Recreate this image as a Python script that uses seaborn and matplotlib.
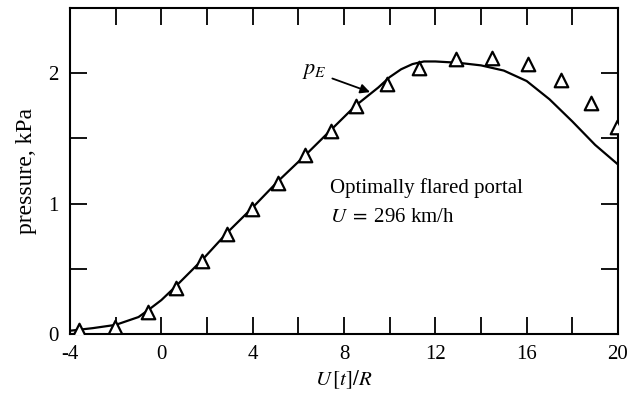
import matplotlib
matplotlib.use("Agg")
import matplotlib.pyplot as plt
import seaborn as sns
import numpy as np
import pandas as pd
from matplotlib.ticker import MultipleLocator, FixedLocator

# data
meas_x = [-3.6, -2.03, -0.58, 0.64, 1.78, 2.88, 3.97, 5.11, 6.29, 7.43, 8.53,
          9.89, 11.29, 12.91, 14.48, 16.06, 17.51, 18.82, 19.96]
meas_y = [0.03, 0.05, 0.17, 0.35, 0.56, 0.77, 0.96, 1.16, 1.37, 1.56, 1.75,
          1.92, 2.04, 2.11, 2.12, 2.07, 1.95, 1.77, 1.59]
curve_x = [-4.0, -3.0, -2.0, -1.0, -0.6, 0.0, 0.6, 1.8, 2.9, 4.0, 5.1, 6.3, 7.4,
           8.5, 9.5, 10.0, 10.5, 11.0, 11.5, 12.0, 13.0, 14.0, 15.0, 16.0,
           17.0, 18.0, 19.0, 20.0]
curve_y = [0.025, 0.045, 0.07, 0.13, 0.18, 0.26, 0.36, 0.57, 0.78, 0.97, 1.17,
           1.37, 1.56, 1.75, 1.89, 1.97, 2.03, 2.07, 2.09, 2.09, 2.08, 2.06,
           2.02, 1.94, 1.80, 1.63, 1.45, 1.30]
x_ticklabels = ["-4", "0", "4", "8", "12", "16", "20"]
y_ticklabels = ["0", "1", "2"]

sns.set_style("ticks")
plt.rcParams['font.family'] = ['Liberation Serif', 'DejaVu Serif']
plt.rcParams['mathtext.fontset'] = 'stix'
plt.rcParams['text.color'] = 'black'
plt.rcParams['axes.labelcolor'] = 'black'

fig = plt.figure(figsize=(6.29, 3.95), dpi=100)
ax = fig.add_axes([70/629, 1-334/395, 548/629, 326/395])

df_c = pd.DataFrame({"x": curve_x, "y": curve_y})
df_m = pd.DataFrame({"x": meas_x, "y": meas_y})
sns.lineplot(data=df_c, x="x", y="y", ax=ax, color="black", linewidth=1.6,
             sort=False, estimator=None)
sns.scatterplot(data=df_m, x="x", y="y", ax=ax, marker="^", s=95,
                facecolor="white", edgecolor="black", linewidth=1.6, zorder=3)

ax.set_xlim(-4, 20)
ax.set_ylim(0, 2.5)
ax.xaxis.set_major_locator(FixedLocator([-4, 0, 4, 8, 12, 16, 20]))
ax.set_xticklabels(x_ticklabels)
ax.xaxis.set_minor_locator(MultipleLocator(2))
ax.yaxis.set_major_locator(FixedLocator([0, 1, 2]))
ax.set_yticklabels(y_ticklabels)
ax.yaxis.set_minor_locator(MultipleLocator(0.5))
ax.tick_params(which="both", direction="in", top=True, right=True,
               width=1.3, color="black", labelsize=15, labelcolor="black")
ax.tick_params(which="major", length=12)
ax.tick_params(which="minor", length=12)
ax.tick_params(axis="x", which="major", pad=8)
ax.tick_params(axis="y", which="major", pad=8)
for s in ax.spines.values():
    s.set_linewidth(1.5)
    s.set_color("black")

ax.set_xlabel(r"$U\,[t]/R$", fontsize=15, labelpad=3)
ax.set_ylabel("pressure, kPa", fontsize=17, labelpad=8)

ax.text(7.4, 1.12, "Optimally flared portal", fontsize=15, va="center", ha="left")
ax.text(7.4, 0.89, r"$U\;=\;$296 km/h", fontsize=15, va="center", ha="left")
ax.annotate(r"$p_E$", xy=(9.14, 1.855), xytext=(6.15, 2.01), fontsize=16,
            va="center", ha="left",
            arrowprops=dict(arrowstyle="-|>", color="black", lw=1.3,
                            shrinkA=2, shrinkB=0, mutation_scale=14))

fig.savefig("out.png", dpi=100)
